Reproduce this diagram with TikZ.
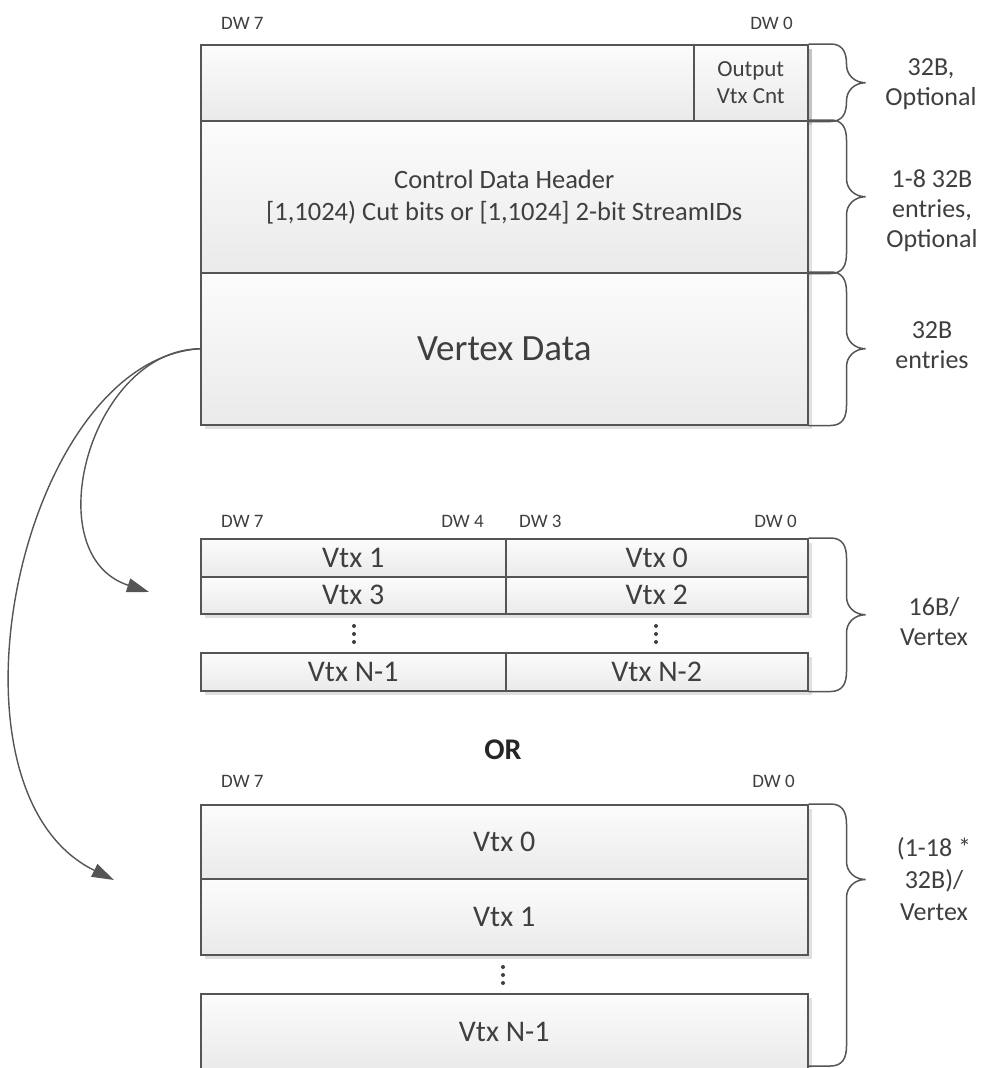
\documentclass[tikz,border=0pt]{standalone}
\usepackage{fontspec}
\setmainfont{Carlito}
\usetikzlibrary{arrows.meta,shadows,calc}
\definecolor{edgec}{HTML}{555555}
\definecolor{txtc}{HTML}{3F3F3F}
\definecolor{shadec}{HTML}{EAEAEA}
\definecolor{topc}{HTML}{FCFCFC}
\newcommand\fs[2]{\fontsize{#1}{#2}\selectfont}
\newcommand\sidebrace[3]{%
  \draw[bracestyle] let \p1=#1, \p2=#2, \p3=#3 in
    (\x1,\y1) -- (\x1+22pt,\y1)
    .. controls (\x1+34pt,\y1) and (\x1+38pt,\y1-8pt) .. (\x1+38pt,\y1-20pt)
    -- (\x1+38pt,\y3+18pt)
    .. controls (\x1+38pt,\y3+8pt) and (\x1+46pt,\y3) .. (\x1+57pt,\y3)
    .. controls (\x1+46pt,\y3) and (\x1+38pt,\y3-8pt) .. (\x1+38pt,\y3-18pt)
    -- (\x1+38pt,\y2+20pt)
    .. controls (\x1+38pt,\y2+8pt) and (\x1+34pt,\y2) .. (\x1+22pt,\y2) -- (\x1,\y2);
}
\tikzset{
  cell/.style={draw=edgec, line width=1.5pt, top color=topc, bottom color=shadec,
    inner sep=0pt, anchor=north west, text=txtc,
    drop shadow={shadow xshift=4pt, shadow yshift=-4pt, fill=black, opacity=0.12}},
  dwlabel/.style={text=txtc, font=\fs{19}{22}, inner sep=0pt},
  sidelabel/.style={text=txtc, font=\fs{26}{30}, align=center, inner sep=0pt},
  vtxfont/.style={font=\fs{30}{36}},
  bracestyle/.style={draw=edgec, line width=1.5pt},
  linkarrow/.style={draw=edgec, line width=1.4pt, -{Triangle[length=22pt,width=14pt]}},
  dotmark/.style={fill=txtc}
}
\begin{document}
\begin{tikzpicture}[x=1pt, y=-1pt]
\useasboundingbox (0,0) rectangle (982,1068);
\fill[white] (0,0) rectangle (982,1068);
\clip (0,0) rectangle (982,1068);

% ---------- top structure ----------
\node[dwlabel, anchor=west] (dwa7) at (221,23) {DW 7};
\node[dwlabel, anchor=east] (dwa0) at (793,23) {DW 0};

\node[cell, minimum width=607, minimum height=76] (r1) at (200,44) {};
\node[cell, minimum width=114, minimum height=76, align=center, font=\fs{23}{27}] (cnt) at (693,44) {Output\\Vtx Cnt};
\node[cell, minimum width=607, minimum height=152, align=center, font=\fs{26.5}{32}] (r2) at (200,120)
  {Control Data Header\\{}[1,1024) Cut bits or [1,1024] 2-bit StreamIDs};
\node[cell, minimum width=607, minimum height=152, font=\fs{37}{44}] (r3) at (200,272) {Vertex Data};

\sidebrace{(r1.north east)}{(r1.south east)}{(r1.east)}
\sidebrace{(r2.north east)}{(r2.south east)}{(r2.east)}
\sidebrace{(r3.north east)}{(r3.south east)}{(r3.east)}

\node[sidelabel] (lab1) at (931,84) {32B,\\Optional};
\node[sidelabel] (lab2) at (932,211) {1-8 32B\\entries,\\Optional};
\node[sidelabel] (lab3) at (932,345) {32B\\entries};

% ---------- middle structure ----------
\node[dwlabel, anchor=west] (dwb7) at (221,521) {DW 7};
\node[dwlabel, anchor=east] (dwb4) at (484,521) {DW 4};
\node[dwlabel, anchor=west] (dwb3) at (519,521) {DW 3};
\node[dwlabel, anchor=east] (dwb0) at (797,521) {DW 0};

\node[cell, vtxfont, minimum width=305, minimum height=38] (m1l) at (200,538) {Vtx 1};
\node[cell, vtxfont, minimum width=302, minimum height=38] (m1r) at (505,538) {Vtx 0};
\node[cell, vtxfont, minimum width=305, minimum height=37] (m2l) at (200,576) {Vtx 3};
\node[cell, vtxfont, minimum width=302, minimum height=37] (m2r) at (505,576) {Vtx 2};
\node[cell, vtxfont, minimum width=305, minimum height=38] (m3l) at (200,652) {Vtx N-1};
\node[cell, vtxfont, minimum width=302, minimum height=38] (m3r) at (505,652) {Vtx N-2};

\foreach \yy in {626,634,642}{
  \fill[dotmark] (354,\yy) circle (2pt);
  \fill[dotmark] (656,\yy) circle (2pt);
}

\sidebrace{(m1r.north east)}{(m3r.south east)}{($(m1r.north east)!0.5!(m3r.south east)$)}
\node[sidelabel] (lab4) at (934,622) {16B/\\Vertex};

% ---------- bottom structure ----------
\node[font=\bfseries\fs{30}{36}, text=black!85, inner sep=0pt] (orlab) at (503,750) {OR};
\node[dwlabel, anchor=west] (dwc7) at (221,781) {DW 7};
\node[dwlabel, anchor=east] (dwc0) at (795,781) {DW 0};

\node[cell, vtxfont, minimum width=607, minimum height=74] (b1) at (200,804) {Vtx 0};
\node[cell, vtxfont, minimum width=607, minimum height=76] (b2) at (200,878) {Vtx 1};
\node[cell, vtxfont, minimum width=607, minimum height=76] (b3) at (200,993) {Vtx N-1};

\foreach \yy in {967,975,983}{
  \fill[dotmark] (503,\yy) circle (2pt);
}

\coordinate (bend) at (807,1066);
\sidebrace{(b1.north east)}{(bend)}{(b1.south east)}
\node[sidelabel, font=\fs{26}{32}] (lab5) at (934,879) {(1-18 *\\32B)/\\Vertex};

% ---------- arrows ----------
\coordinate (t1) at (149,592);
\coordinate (t2) at (114,880);
\draw[linkarrow] (r3.west) .. controls (90,350) and (35,555) .. (t1);
\draw[linkarrow] (r3.west) .. controls (20,360) and (-70,790) .. (t2);
\end{tikzpicture}
\end{document}
